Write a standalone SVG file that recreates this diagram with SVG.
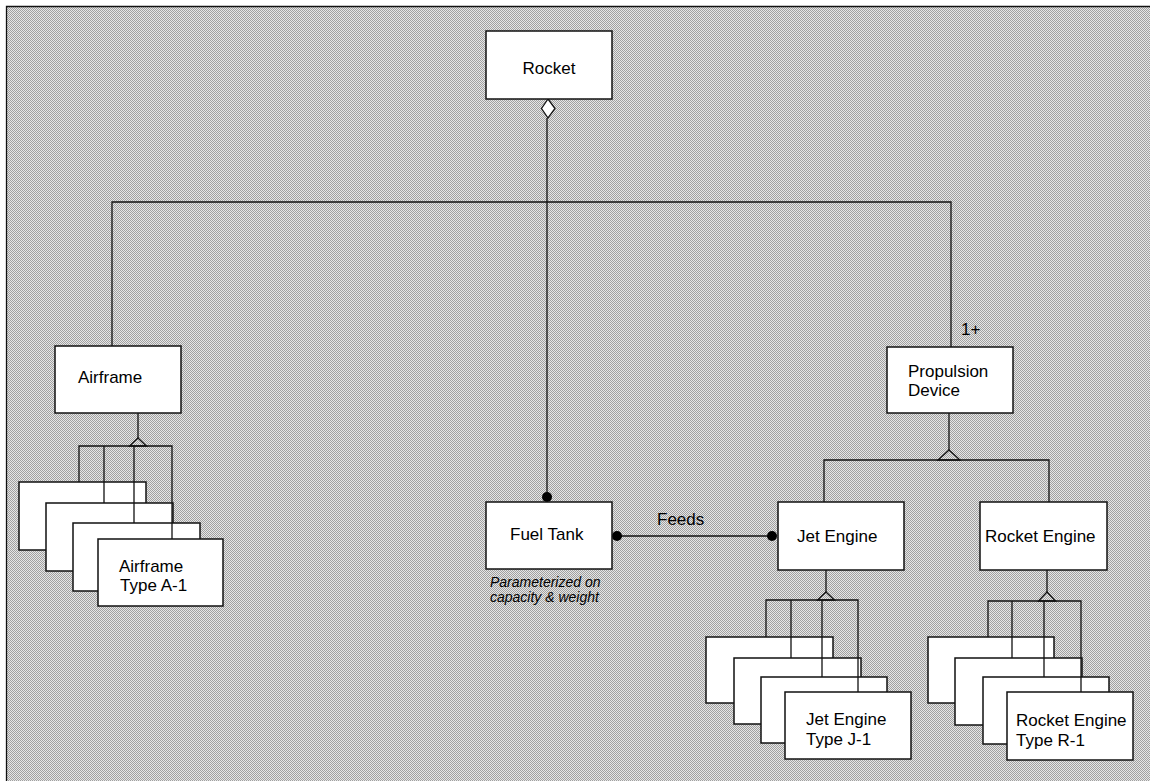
<svg xmlns="http://www.w3.org/2000/svg" width="1150" height="781" viewBox="0 0 1150 781">
<defs>
<pattern id="ht" width="2" height="2" patternUnits="userSpaceOnUse">
<rect width="2" height="2" fill="#e6e6e6"/>
<rect width="1" height="1" fill="#a0a0a0"/>
<rect x="1" y="1" width="1" height="1" fill="#a0a0a0"/>
</pattern>
</defs>
<style>
.box{fill:#fff;stroke:#111;stroke-width:1.5}
.ln{fill:none;stroke:#111;stroke-width:1.3}
.tri{fill:none;stroke:#111;stroke-width:1.3;stroke-linejoin:miter}
.dia{fill:#fff;stroke:#111;stroke-width:1.3}
.dot{fill:#000}
text{font-family:"Liberation Sans",Arial,sans-serif;font-size:17px;fill:#000}
.it{font-style:italic;font-size:14px}
</style>
<rect x="0" y="0" width="1150" height="781" fill="#fff"/>
<rect x="6.5" y="6.5" width="1150" height="781" fill="url(#ht)"/>
<path class="ln" d="M6.5,781 V6.5 H1150" stroke-width="1.6"/>

<g id="connectors">
<polygon class="dia" points="548,99 555,108.5 548,118 541.5,108.5"/>
<path class="ln" d="M547,118 V497"/>
<circle class="dot" cx="547" cy="497" r="5"/>
<path class="ln" d="M112,346 V202 H951 V347"/>
<path class="ln" d="M617,536 H772"/>
<circle class="dot" cx="617" cy="536" r="5"/>
<circle class="dot" cx="772" cy="536" r="5"/>
<path class="ln" d="M949,413 V450"/>
<polygon class="tri" points="949,450 960,460 938,460"/>
<path class="ln" d="M824,502 V460 H1049 V502"/>
</g>

<g id="rocket">
<rect class="box" x="486" y="31" width="126" height="68"/>
<text x="549" y="74" text-anchor="middle">Rocket</text>
</g>

<g id="airframe">
<rect class="box" x="55" y="346" width="126" height="67"/>
<text x="78" y="383">Airframe</text>
</g>

<g id="airframe-types">
<rect class="box" x="19" y="482" width="127" height="68"/>
<rect class="box" x="46" y="503" width="127" height="68"/>
<rect class="box" x="73" y="523" width="127" height="68"/>
<rect class="box" x="98" y="539" width="125" height="67"/>
<path class="ln" d="M138,413 V438"/>
<polygon class="tri" points="138,438 146.5,446 129.5,446"/>
<path class="ln" d="M79,482 V446 H172 V539 M104,446 V503 M134,446 V523"/>
<text x="119" y="572">Airframe</text>
<text x="120" y="591">Type A-1</text>
</g>

<g id="fuel-tank">
<rect class="box" x="486" y="502" width="126" height="67"/>
<text x="510" y="540">Fuel Tank</text>
<text class="it" x="490" y="587">Parameterized on</text>
<text class="it" x="490" y="602">capacity &amp; weight</text>
</g>

<g id="feeds-label">
<text x="657" y="525">Feeds</text>
</g>

<g id="propulsion">
<rect class="box" x="887" y="347" width="126" height="66"/>
<text x="908" y="377">Propulsion</text>
<text x="908" y="396">Device</text>
<text x="961" y="335" font-size="15">1+</text>
</g>

<g id="jet-engine">
<rect class="box" x="778" y="502" width="126" height="68"/>
<text x="797" y="542">Jet Engine</text>
</g>

<g id="rocket-engine">
<rect class="box" x="980" y="502" width="127" height="68"/>
<text x="985" y="542">Rocket Engine</text>
</g>

<g id="jet-engine-types">
<rect class="box" x="706" y="637" width="127" height="66"/>
<rect class="box" x="734" y="658" width="127" height="66"/>
<rect class="box" x="761" y="677" width="126" height="66"/>
<rect class="box" x="785" y="692" width="126" height="67"/>
<path class="ln" d="M826,570 V592"/>
<polygon class="tri" points="826,592 834.5,600 817.5,600"/>
<path class="ln" d="M766,637 V600 H858 V692 M791,600 V658 M822,600 V677"/>
<text x="806" y="725">Jet Engine</text>
<text x="806" y="745">Type J-1</text>
</g>

<g id="rocket-engine-types">
<rect class="box" x="928" y="637" width="126" height="66"/>
<rect class="box" x="955" y="658" width="127" height="67"/>
<rect class="box" x="983" y="677" width="126" height="67"/>
<rect class="box" x="1007" y="692" width="126" height="68"/>
<path class="ln" d="M1047,570 V592"/>
<polygon class="tri" points="1047,592 1055.5,601 1038.5,601"/>
<path class="ln" d="M988,637 V601 H1081 V692 M1012,601 V658 M1044,601 V677"/>
<text x="1016" y="726">Rocket Engine</text>
<text x="1016" y="746">Type R-1</text>
</g>
</svg>
